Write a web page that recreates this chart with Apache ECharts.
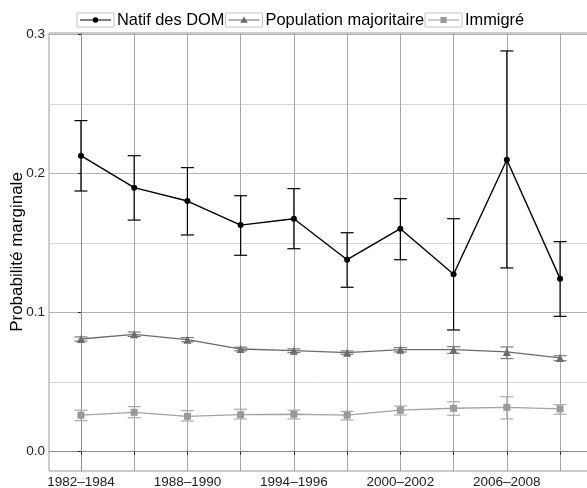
<!DOCTYPE html>
<html>
<head>
<meta charset="utf-8">
<script src="https://cdn.jsdelivr.net/npm/echarts@6/dist/echarts.min.js"></script>
<style>html,body{margin:0;padding:0;background:#fff;}#c{width:587px;height:488px;}</style>
</head>
<body>
<div id="c"></div>
<script>
const categories = ['1982–1984','1985–1987','1988–1990','1991–1993','1994–1996','1997–1999','2000–2002','2003–2005','2006–2008','2009–2011'];
const labelledCategories = [0, 2, 4, 6, 8];
const yTickValues = [0, 0.1, 0.2, 0.3];
const yMinorValues = [0.05, 0.15, 0.25];

const natif     = [0.2128, 0.1898, 0.1802, 0.1629, 0.1675, 0.1380, 0.1603, 0.1275, 0.2099, 0.1244];
const natifLow  = [0.1874, 0.1665, 0.1558, 0.1412, 0.1459, 0.1182, 0.1380, 0.0875, 0.1321, 0.0973];
const natifHigh = [0.2380, 0.2128, 0.2042, 0.1840, 0.1891, 0.1574, 0.1819, 0.1675, 0.2881, 0.1510];

const pop     = [0.0810, 0.0844, 0.0805, 0.0738, 0.0726, 0.0712, 0.0733, 0.0733, 0.0717, 0.0674];
const popLow  = [0.0795, 0.0828, 0.0790, 0.0725, 0.0713, 0.0700, 0.0717, 0.0707, 0.0669, 0.0654];
const popHigh = [0.0825, 0.0860, 0.0820, 0.0751, 0.0739, 0.0724, 0.0748, 0.0755, 0.0753, 0.0690];

const imm     = [0.0262, 0.0283, 0.0254, 0.0266, 0.0269, 0.0262, 0.0298, 0.0312, 0.0319, 0.0307];
const immLow  = [0.0223, 0.0244, 0.0221, 0.0235, 0.0235, 0.0228, 0.0264, 0.0262, 0.0235, 0.0269];
const immHigh = [0.0298, 0.0324, 0.0295, 0.0305, 0.0298, 0.0290, 0.0328, 0.0359, 0.0395, 0.0338];

const seriesNames = ['Natif des DOM', 'Population majoritaire', 'Immigré'];
const colors = ['#000000', '#6b6b6b', '#9a9a9a'];
const barColors = ['#000000', '#7a7a7a', '#ababab'];

const idx = categories.map((_, i) => i);
const pts = (arr) => arr.map((v, i) => [i, v]);
const bars = (lo, hi) => lo.map((v, i) => [i, v, hi[i]]);

function errRender(color) {
  return function (params, api) {
    const x = api.value(0);
    const p1 = api.coord([x, api.value(1)]);
    const p2 = api.coord([x, api.value(2)]);
    const w = 6.5;
    const st = { stroke: color, lineWidth: 1.2 };
    return {
      type: 'group',
      children: [
        { type: 'line', shape: { x1: p1[0], y1: p1[1], x2: p2[0], y2: p2[1] }, style: st },
        { type: 'line', shape: { x1: p1[0] - w, y1: p1[1], x2: p1[0] + w, y2: p1[1] }, style: st },
        { type: 'line', shape: { x1: p2[0] - w, y1: p2[1], x2: p2[0] + w, y2: p2[1] }, style: st }
      ]
    };
  };
}

const anchors = 'M0 0 L0 0 Z M37 14 L37 14 Z ';
const lineBar = 'M3 6.4 L34 6.4 L34 7.6 L3 7.6 Z ';
const icons = [
  'path://' + anchors + lineBar + 'M15.7 7 A2.8 2.8 0 1 1 21.3 7 A2.8 2.8 0 1 1 15.7 7 Z',
  'path://' + anchors + lineBar + 'M18.5 3.4 L22.3 9.8 L14.7 9.8 Z',
  'path://' + anchors + lineBar + 'M15.4 3.9 L21.6 3.9 L21.6 10.1 L15.4 10.1 Z'
];

const chart = echarts.init(document.getElementById('c'), null, { renderer: 'canvas' });
const font = 'Liberation Sans, Arial, Helvetica, sans-serif';

chart.setOption({
  animation: false,
  textStyle: { fontFamily: font },
  grid: { left: 49, right: -5, top: 33, bottom: 17, show: true, borderColor: '#9a9a9a', borderWidth: 1,
    containLabel: false, outerBoundsMode: 'none' },
  legend: {
    left: 77, top: 12, padding: 0, itemWidth: 37, itemHeight: 14, itemGap: 1,
    textStyle: { fontSize: 16.4, color: '#000', fontFamily: font, padding: [0, 0, 0, -2] },
    data: seriesNames.map((n, i) => ({ name: n, icon: icons[i], itemStyle: { color: colors[i], borderWidth: 0 } }))
  },
  xAxis: {
    type: 'value', min: -0.6, max: 9.6,
    axisLine: { show: true, lineStyle: { color: '#8c8c8c', width: 1 } },
    axisTick: { show: true, length: 3, lineStyle: { color: '#222' }, customValues: idx },
    axisLabel: { fontSize: 13.5, color: '#222', margin: 4, fontFamily: font,
      customValues: labelledCategories, formatter: (v) => categories[Math.round(v)] },
    splitLine: { show: true, lineStyle: { color: '#a6a6a6', width: 1 } }
  },
  yAxis: [
    {
      type: 'value', min: -0.0139, max: 0.301,
      name: 'Probabilité marginale', nameLocation: 'middle', nameGap: 23, nameMoveOverlap: false,
      nameTextStyle: { fontSize: 17, color: '#000', fontFamily: font },
      axisLine: { show: true, lineStyle: { color: '#8c8c8c', width: 1 } },
      axisTick: { show: true, length: 3, lineStyle: { color: '#222' }, customValues: yTickValues },
      axisLabel: { fontSize: 13.5, color: '#222', margin: 4, fontFamily: font,
        customValues: yTickValues, formatter: (v) => v.toFixed(1) },
      splitLine: { show: true, lineStyle: { color: '#b3b3b3', width: 1.2 } }
    },
    {
      type: 'value', min: -0.0139, max: 0.301, position: 'left',
      axisLine: { show: false }, axisLabel: { show: false },
      axisTick: { show: false, customValues: yMinorValues },
      splitLine: { show: true, lineStyle: { color: '#d6d6d6', width: 1 } }
    }
  ],
  series: [
    { name: seriesNames[0], type: 'custom', renderItem: errRender(barColors[0]), data: bars(natifLow, natifHigh), z: 3, silent: true },
    { name: seriesNames[1], type: 'custom', renderItem: errRender(barColors[1]), data: bars(popLow, popHigh), z: 3, silent: true },
    { name: seriesNames[2], type: 'custom', renderItem: errRender(barColors[2]), data: bars(immLow, immHigh), z: 3, silent: true },
    { name: seriesNames[0], type: 'line', data: pts(natif), symbol: 'circle', symbolSize: 6,
      lineStyle: { color: colors[0], width: 1.4 }, itemStyle: { color: colors[0], borderWidth: 0 }, z: 4 },
    { name: seriesNames[1], type: 'line', data: pts(pop), symbol: 'triangle', symbolSize: 8,
      lineStyle: { color: colors[1], width: 1.3 }, itemStyle: { color: colors[1], borderWidth: 0 }, z: 4 },
    { name: seriesNames[2], type: 'line', data: pts(imm), symbol: 'rect', symbolSize: 7,
      lineStyle: { color: '#a3a3a3', width: 1.3 }, itemStyle: { color: colors[2], borderWidth: 0 }, z: 4 }
  ]
});

// legend key frames, placed at the legend icon positions computed by ECharts
const lv = chart.getViewOfComponentModel(chart.getModel().getComponent('legend'));
const frames = [];
if (lv && lv.getContentGroup) {
  const cg = lv.getContentGroup();
  cg.children().forEach((item) => {
    frames.push({ type: 'rect', shape: { x: lv.group.x + cg.x + item.x, y: lv.group.y + cg.y + item.y, width: 37, height: 14 },
      style: { fill: 'none', stroke: '#c4c4c4', lineWidth: 1 }, z: 1 });
  });
}
chart.setOption({ graphic: frames }, { replaceMerge: ['graphic'] });
</script>
</body>
</html>
